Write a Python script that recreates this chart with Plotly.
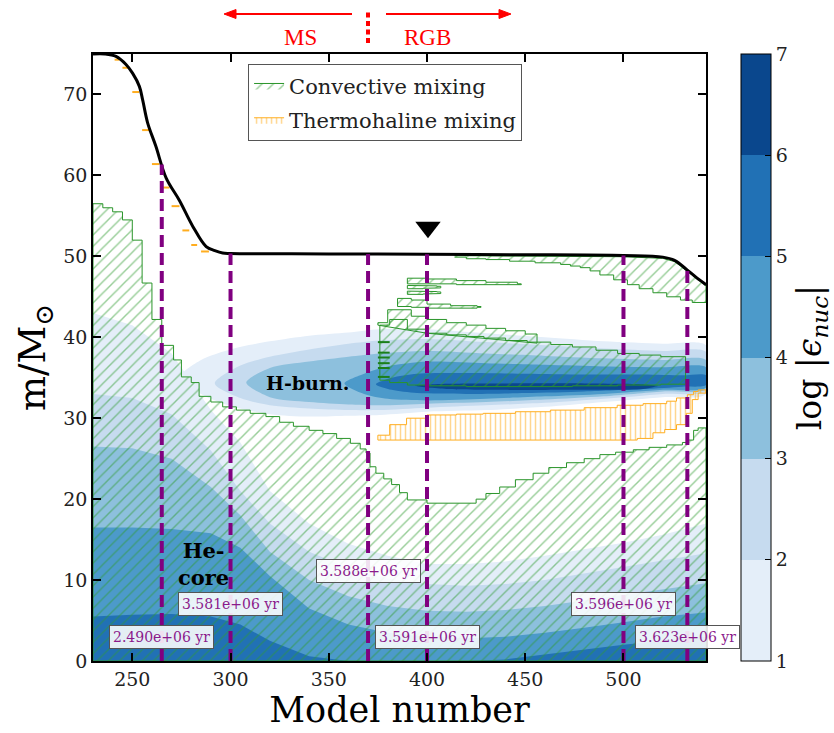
import numpy as np
import plotly.graph_objects as go

# ---------------- data ----------------
# total stellar mass (black line)
MASS_X = [230, 236, 241.7, 246.8, 250.2, 253.6, 255.3, 257.8, 262, 267.2, 274, 280.8, 287.6, 292, 296,
          300, 350, 400, 450, 500, 520, 526, 532.5, 537, 542]
MASS_Y = [75, 75, 74.7, 73.7, 72.6, 71.0, 69.3, 66.5, 63.6, 59.7, 56.9, 53.7, 51.2, 50.7, 50.4,
          50.35, 50.3, 50.25, 50.2, 50.1, 49.9, 49.5, 48.3, 47.4, 46.5]

# thermohaline dashes during early mass loss
TH_DASH_X0 = [241, 245, 250, 255, 260, 265, 270, 275.5, 280, 285]
TH_DASH_X1 = [243.5, 248, 253.5, 258.7, 263.8, 268.9, 274, 279, 283, 289]
TH_DASH_Y = [74.3, 73.3, 70.3, 65.6, 61.4, 58.5, 56.2, 53.2, 51.4, 50.6]

# convective core upper boundary (step values)
CORE_X = [230, 235, 240, 245, 250, 255, 260, 265, 271, 275, 280, 284, 290, 296, 303, 310, 318, 325, 332,
          340, 347, 354, 361, 366, 369, 371, 374, 378, 382, 386, 390, 400, 425, 430, 437, 445, 454, 462,
          471, 480, 488, 496, 505, 513, 522, 530, 533, 535.7, 538]
CORE_Y = [56.5, 56.0, 55.5, 54.5, 52.0, 46.7, 42.2, 39.0, 37.2, 35.1, 34.4, 32.7, 32.0, 31.4, 31.0, 30.6,
          30.2, 29.5, 29.0, 28.5, 28.1, 27.5, 26.9, 26.2, 25.7, 24.0, 23.2, 22.5, 21.8, 20.8, 19.9, 19.5,
          20.0, 20.7, 21.5, 22.4, 23.2, 23.9, 24.5, 25.0, 25.5, 25.8, 26.1, 26.4, 26.7, 27.0, 27.3, 28.5, 28.8]

# convective envelope lower boundary
ENV_X = [414, 420, 430, 442, 455, 468, 473, 478, 483, 488, 495, 502, 508, 515, 522, 529, 535]
ENV_Y = [49.9, 49.7, 49.6, 49.4, 49.2, 49.0, 48.8, 48.6, 48.2, 47.7, 47.1, 46.5, 46.0, 45.5, 45.0, 44.6, 44.3]

# convective shell above the H-burning shell
SHELL_X = [376, 381, 390, 400, 410, 420, 429, 440, 451, 463, 474, 486, 497, 508, 519]
SHELL_TOP = [41.5, 42.2, 41.0, 40.5, 40.3, 40.1, 39.9, 39.6, 39.4, 39.1, 38.8, 38.4, 38.0, 37.8, 37.6]
SHELL_BOT = [34.7, 34.4, 34.1, 34.0, 34.0, 33.9, 33.9, 33.9, 33.9, 33.9, 34.0, 34.0, 34.1, 34.1, 34.2]
SHELL_END = 531.6

# small convective pockets above the shell
UPPER_X = [375, 380, 392, 400, 410, 420, 430, 440, 450]
UPPER_TOP = [41.8, 43.4, 42.6, 42.2, 41.8, 41.5, 41.1, 40.8, 40.4]
UPPER_END = 456
THIN_BANDS = [  # (x, top, bottom)
    ([390, 400, 415, 430, 446], [47.3, 47.2, 47.0, 46.8, 46.6], [46.6, 46.6, 46.5, 46.5, 46.5]),
    ([390, 398, 405], [46.4, 46.35, 46.3], [46.0, 46.05, 46.1]),
    ([390, 398, 405], [45.7, 45.65, 45.6], [45.3, 45.35, 45.4]),
    ([385, 392, 400, 412, 425.5], [44.8, 44.6, 44.1, 43.9, 43.8], [43.8, 43.7, 43.6, 43.6, 43.7]),
]
POCKET_Y = [39.4, 38.1, 37.5, 36.8, 36.2, 35.1]

# thermohaline zone
THM_X = [375, 381, 389.6, 400, 415, 428.6, 445, 462.8, 480, 496.8, 510, 522, 527, 532.5, 535.7, 538]
THM_TOP = [27.9, 29.2, 30.0, 30.4, 30.5, 30.6, 30.8, 31.0, 31.3, 31.6, 31.8, 32.1, 32.5, 32.9, 33.3, 33.5]
THM_BX = [375, 400, 507, 515, 521, 527, 532, 535, 538]
THM_BOT = [27.3, 27.3, 27.5, 28.2, 28.6, 29.2, 30.6, 32.3, 33.1]
THM_END = 542

# nuclear energy generation, log|eps_nuc| levels (1..7)
LEVELS = [1, 2, 3, 4, 5, 6, 7]
LEVEL_COLORS = ['#e4eef9', '#c6dbef', '#8dc0dd', '#4c9aca', '#2171b5', '#0a478d']

# core: upper boundary of region >= level k
CORE_LEV_X = [230, 250, 270, 290, 305, 320, 340, 360, 380, 400, 420, 440, 460, 480, 500, 520, 542]
CORE_LEV = [
    [43, 41.5, 38, 31, 27, 21, 17, 14.5, 13, 12, 12, 12.3, 13, 13.8, 14.6, 15.6, 17],
    [33, 32.5, 30.5, 26, 21, 17, 13.5, 11.5, 10.2, 9.5, 9.3, 9.5, 10.0, 10.8, 11.6, 12.4, 13.3],
    [26.5, 26.3, 25, 21.5, 18, 13.5, 10, 8, 6.8, 6.2, 6.1, 6.3, 6.8, 7.5, 8.2, 8.9, 9.6],
    [16.5, 16.5, 16.3, 15.8, 14, 10.5, 6.5, 4.5, 3.5, 3.0, 2.8, 3.0, 3.5, 4.1, 4.8, 5.5, 6.0],
    [5.5, 5.7, 5.8, 5.5, 4.5, 2.5, 0.6, 0, 0, 0, 0, 0.2, 0.8, 1.4, 2.0, 2.5, 3.0],
]

# H-burning shell: nested regions >= level k  (x, upper, lower)
SHELL_LEV = [
    ([274, 285, 300, 320, 340, 360, 376, 400, 430, 460, 490, 520, 542],
     [35, 37.2, 38.5, 39.5, 40.2, 40.6, 41.0, 41.0, 40.5, 40.0, 39.5, 39.2, 39.0],
     [35, 33.0, 31.5, 30.5, 30.2, 30.3, 30.4, 30.8, 31.0, 31.4, 32.0, 32.6, 33.0]),
    ([292, 305, 320, 340, 360, 376, 400, 430, 460, 490, 520, 542],
     [34.3, 36.5, 37.6, 38.5, 39.2, 39.6, 39.8, 39.4, 39.0, 38.6, 38.3, 38.2],
     [34.3, 32.5, 31.6, 31.2, 31.0, 31.0, 31.3, 31.6, 31.9, 32.4, 33.0, 33.4]),
    ([308, 320, 340, 360, 376, 400, 430, 460, 490, 520, 542],
     [34.4, 36.2, 37.0, 37.6, 38.0, 38.3, 38.0, 37.7, 37.4, 37.2, 37.2],
     [34.4, 32.6, 32.0, 31.7, 31.6, 31.8, 32.0, 32.3, 32.7, 33.3, 33.6]),
    ([358, 368, 380, 400, 430, 460, 490, 520, 542],
     [34.3, 35.5, 36.4, 37.0, 36.8, 36.6, 36.4, 36.3, 36.3],
     [34.3, 33.0, 32.4, 32.2, 32.4, 32.7, 33.0, 33.5, 33.8]),
    ([374, 382, 395, 420, 450, 480, 510, 530, 542],
     [34.2, 35.0, 35.5, 35.6, 35.5, 35.4, 35.4, 35.3, 35.3],
     [34.2, 33.5, 33.1, 33.0, 33.1, 33.3, 33.6, 33.9, 34.1]),
    ([394, 410, 440, 480, 510, 518],
     [34.0, 34.25, 34.3, 34.3, 34.2, 34.0],
     [34.0, 33.6, 33.5, 33.5, 33.6, 34.0]),
]

# selected models with ages
T_X = [265, 300, 370, 400, 500, 532.5]
T_LABELS = ['2.490e+06 yr', '3.581e+06 yr', '3.588e+06 yr', '3.591e+06 yr', '3.596e+06 yr', '3.623e+06 yr']
T_LABEL_Y = [3.0, 7.0, 11.1, 3.0, 7.0, 3.0]

MARK_X, MARK_Y = 400.5, 53.6

# ---------------- helpers ----------------
def steps(xs, ys, x_end):
    px, py = [], []
    for i in range(len(xs)):
        x_next = xs[i + 1] if i + 1 < len(xs) else x_end
        px += [xs[i], x_next]
        py += [ys[i], ys[i]]
    return px, py

SERIF = 'DejaVu Serif'
GREEN_LINE = '#2a952a'
GREEN_HATCH = '#2f9c2f'
ORANGE = '#ffad1f'

fig = go.Figure()

# core energy-generation bands
for k, top in enumerate(CORE_LEV):
    xs = CORE_LEV_X + [CORE_LEV_X[-1], CORE_LEV_X[0]]
    ys = top + [0, 0]
    fig.add_trace(go.Scatter(x=xs, y=ys, fill='toself', mode='lines', line=dict(width=0),
                             fillcolor=LEVEL_COLORS[k], showlegend=False, hoverinfo='skip'))

# shell energy-generation bands
for k, (sx, su, sl) in enumerate(SHELL_LEV):
    xs = sx + sx[::-1]
    ys = su + sl[::-1]
    fig.add_trace(go.Scatter(x=xs, y=ys, fill='toself', mode='lines',
                             line=dict(width=0, shape='spline', smoothing=0.8),
                             fillcolor=LEVEL_COLORS[k], showlegend=False, hoverinfo='skip'))

conv_pattern = dict(shape='/', fgcolor=GREEN_HATCH, bgcolor='rgba(0,0,0,0)', size=8, solidity=0.18)
therm_pattern = dict(shape='|', fgcolor=ORANGE, bgcolor='rgba(0,0,0,0)', size=5, solidity=0.3)

def conv_trace(xs, ys, show=False):
    return go.Scatter(x=xs, y=ys, fill='toself', mode='lines', fillcolor='rgba(0,0,0,0)',
                      fillpattern=conv_pattern, line=dict(color=GREEN_LINE, width=1),
                      name='Convective mixing', legendgroup='conv', showlegend=show, hoverinfo='skip')

# convective core
cx, cy = steps(CORE_X, CORE_Y, 542)
fig.add_trace(conv_trace(cx + [542, 230, 230], cy + [0, 0, CORE_Y[0]], show=True))

# convective envelope (top = surface)
ex, ey = steps(ENV_X, ENV_Y, 542)
top_x = [ENV_X[0], 450, 500, 520, 526, 532.5, 537, 542]
top_y = list(np.interp(top_x, MASS_X, MASS_Y) - 0.15)
fig.add_trace(conv_trace(top_x + ex[::-1], top_y + ey[::-1]))

# shell convection
sx_t, sy_t = steps(SHELL_X, SHELL_TOP, SHELL_END)
sx_b, sy_b = steps(SHELL_X, SHELL_BOT, SHELL_END)
fig.add_trace(conv_trace(sx_t + sx_b[::-1] + [sx_t[0]], sy_t + sy_b[::-1] + [sy_t[0]]))

ux, uy = steps(UPPER_X, UPPER_TOP, UPPER_END)
ub_x = [UPPER_END, 430, 400, UPPER_X[0]]
ub_y = list(np.interp(ub_x, SHELL_X, SHELL_TOP))
fig.add_trace(conv_trace(ux + ub_x + [ux[0]], uy + ub_y + [uy[0]]))

for bx, bt, bb in THIN_BANDS:
    tx, ty = steps(bx, bt, bx[-1] + 2)
    bx2, by2 = steps(bx, bb, bx[-1] + 2)
    fig.add_trace(conv_trace(tx + bx2[::-1] + [tx[0]], ty + by2[::-1] + [ty[0]]))

pk_x, pk_y = [], []
for yv in POCKET_Y:
    pk_x += [375, 381, None]
    pk_y += [yv, yv, None]
fig.add_trace(go.Scatter(x=pk_x, y=pk_y, mode='lines', line=dict(color='#1a7f1a', width=2),
                         showlegend=False, hoverinfo='skip'))

# thermohaline
tx, ty = steps(THM_X, THM_TOP, THM_END)
bx, by = steps(THM_BX, THM_BOT, THM_END)
fig.add_trace(go.Scatter(x=tx + bx[::-1] + [tx[0]], y=ty + by[::-1] + [ty[0]], fill='toself', mode='lines',
                         fillcolor='rgba(0,0,0,0)', fillpattern=therm_pattern,
                         line=dict(color=ORANGE, width=1), name='Thermohaline mixing',
                         legendgroup='therm', showlegend=True, hoverinfo='skip'))

dx, dy = [], []
for a, b, yv in zip(TH_DASH_X0, TH_DASH_X1, TH_DASH_Y):
    dx += [a, b, None]
    dy += [yv, yv, None]
fig.add_trace(go.Scatter(x=dx, y=dy, mode='lines', line=dict(color=ORANGE, width=2),
                         showlegend=False, hoverinfo='skip'))

# surface
fig.add_trace(go.Scatter(x=MASS_X, y=MASS_Y, mode='lines', line=dict(color='black', width=3, shape='spline',
                         smoothing=1.0), showlegend=False, hoverinfo='skip'))

# vertical dashed model lines
tops = np.interp(T_X, MASS_X, MASS_Y)
for xv, tv in zip(T_X, tops):
    fig.add_trace(go.Scatter(x=[xv, xv], y=[0, tv], mode='lines',
                             line=dict(color='#800080', width=4, dash='12px,6px'),
                             showlegend=False, hoverinfo='skip'))

fig.add_trace(go.Scatter(x=[MARK_X], y=[MARK_Y], mode='markers',
                         marker=dict(symbol='triangle-down', size=22, color='black'),
                         showlegend=False, hoverinfo='skip'))

# colorbar carrier
cs = []
n = len(LEVEL_COLORS)
for i, c in enumerate(LEVEL_COLORS):
    cs += [[i / n, c], [(i + 1) / n, c]]
fig.add_trace(go.Scatter(x=[300], y=[-50], mode='markers', showlegend=False, hoverinfo='skip',
                         marker=dict(color=[4], cmin=LEVELS[0], cmax=LEVELS[-1], colorscale=cs, showscale=True,
                                     colorbar=dict(x=1.057, xanchor='left', y=0.5, yanchor='middle', len=1,
                                                   lenmode='fraction', thickness=30, xpad=0, ypad=0,
                                                   outlinewidth=1, outlinecolor='black',
                                                   tickvals=LEVELS, ticks='inside', ticklen=6,
                                                   tickcolor='black',
                                                   tickfont=dict(family=SERIF, size=19, color='#222'),
                                                   title=dict(text='log |<i>ϵ<sub>nuc</sub></i>|', side='right',
                                                              font=dict(family=SERIF, size=33, color='black'))))))

# annotations
for xv, lab, yv in zip(T_X, T_LABELS, T_LABEL_Y):
    fig.add_annotation(x=xv, y=yv, text=lab, showarrow=False, xanchor='center', yanchor='middle',
                       font=dict(family=SERIF, size=14, color='#8b1a8b'),
                       bgcolor='rgba(255,255,255,0.88)', bordercolor='#555', borderwidth=1, borderpad=3)

fig.add_annotation(x=286, y=12, text='<b>He-<br>core</b>', showarrow=False,
                   font=dict(family=SERIF, size=21, color='black'))
fig.add_annotation(x=339, y=34.4, text='<b>H-burn.</b>', showarrow=False,
                   font=dict(family=SERIF, size=19, color='black'))

# MS / RGB indicator above the plot (pixel geometry converted to paper units)
PL, PW, PB, PH = 93, 613, 661, 607
def px2paper(px, py):
    return (px - PL) / PW, (PB - py) / PH

def arrow(tail_px, head_px, py):
    x0, y0 = px2paper(tail_px, py)
    d = 12 if head_px < tail_px else -12
    fig.add_shape(type='line', xref='paper', yref='paper', x0=x0, x1=px2paper(head_px + d * 0.6, py)[0],
                  y0=y0, y1=y0, line=dict(color='red', width=2))
    hx, hy = px2paper(head_px, py)
    bx_, by1 = px2paper(head_px + d, py - 4.5)
    _, by2 = px2paper(head_px + d, py + 4.5)
    fig.add_shape(type='path', xref='paper', yref='paper',
                  path=f'M {hx} {hy} L {bx_} {by1} L {bx_} {by2} Z',
                  fillcolor='red', line=dict(color='red', width=1))

arrow(352, 224, 14)
arrow(386, 511, 14)
dxp, dy0 = px2paper(368, 43)
_, dy1 = px2paper(368, 12)
fig.add_shape(type='line', xref='paper', yref='paper', x0=dxp, x1=dxp, y0=dy0, y1=dy1,
              line=dict(color='red', width=4, dash='5px,3.5px'))
msx, msy = px2paper(300, 37)
rgx, _ = px2paper(427, 37)
fig.add_annotation(xref='paper', yref='paper', x=msx, y=msy, text='MS', showarrow=False,
                   xanchor='center', yanchor='middle',
                   font=dict(family='Liberation Serif', size=23, color='red'))
fig.add_annotation(xref='paper', yref='paper', x=rgx, y=msy, text='RGB', showarrow=False,
                   xanchor='center', yanchor='middle',
                   font=dict(family='Liberation Serif', size=23, color='red'))

axis_common = dict(showline=True, linecolor='black', linewidth=1.5, mirror='ticks', ticks='inside',
                   ticklen=8, tickwidth=1.5, tickcolor='black', showgrid=False, zeroline=False,
                   tickfont=dict(family=SERIF, size=19, color='#222'))
fig.update_xaxes(range=[230, 542], tickvals=[250, 300, 350, 400, 450, 500],
                 title=dict(text='Model number', font=dict(family=SERIF, size=35, color='black'), standoff=4),
                 **axis_common)
fig.update_yaxes(range=[0, 75], tickvals=[0, 10, 20, 30, 40, 50, 60, 70],
                 title=dict(text='m/M<sub>⊙</sub>', font=dict(family=SERIF, size=37, color='black'), standoff=6),
                 **axis_common)

fig.update_layout(width=834, height=733, margin=dict(l=93, r=128, t=54, b=72, autoexpand=False),
                  plot_bgcolor='white', paper_bgcolor='white',
                  font=dict(family=SERIF),
                  legend=dict(x=0.253, y=0.983, xanchor='left', yanchor='top', bgcolor='white',
                              bordercolor='#555', borderwidth=1, font=dict(family=SERIF, size=21, color='#222'),
                              tracegroupgap=4, traceorder='grouped'))

fig.write_html('out.html')
